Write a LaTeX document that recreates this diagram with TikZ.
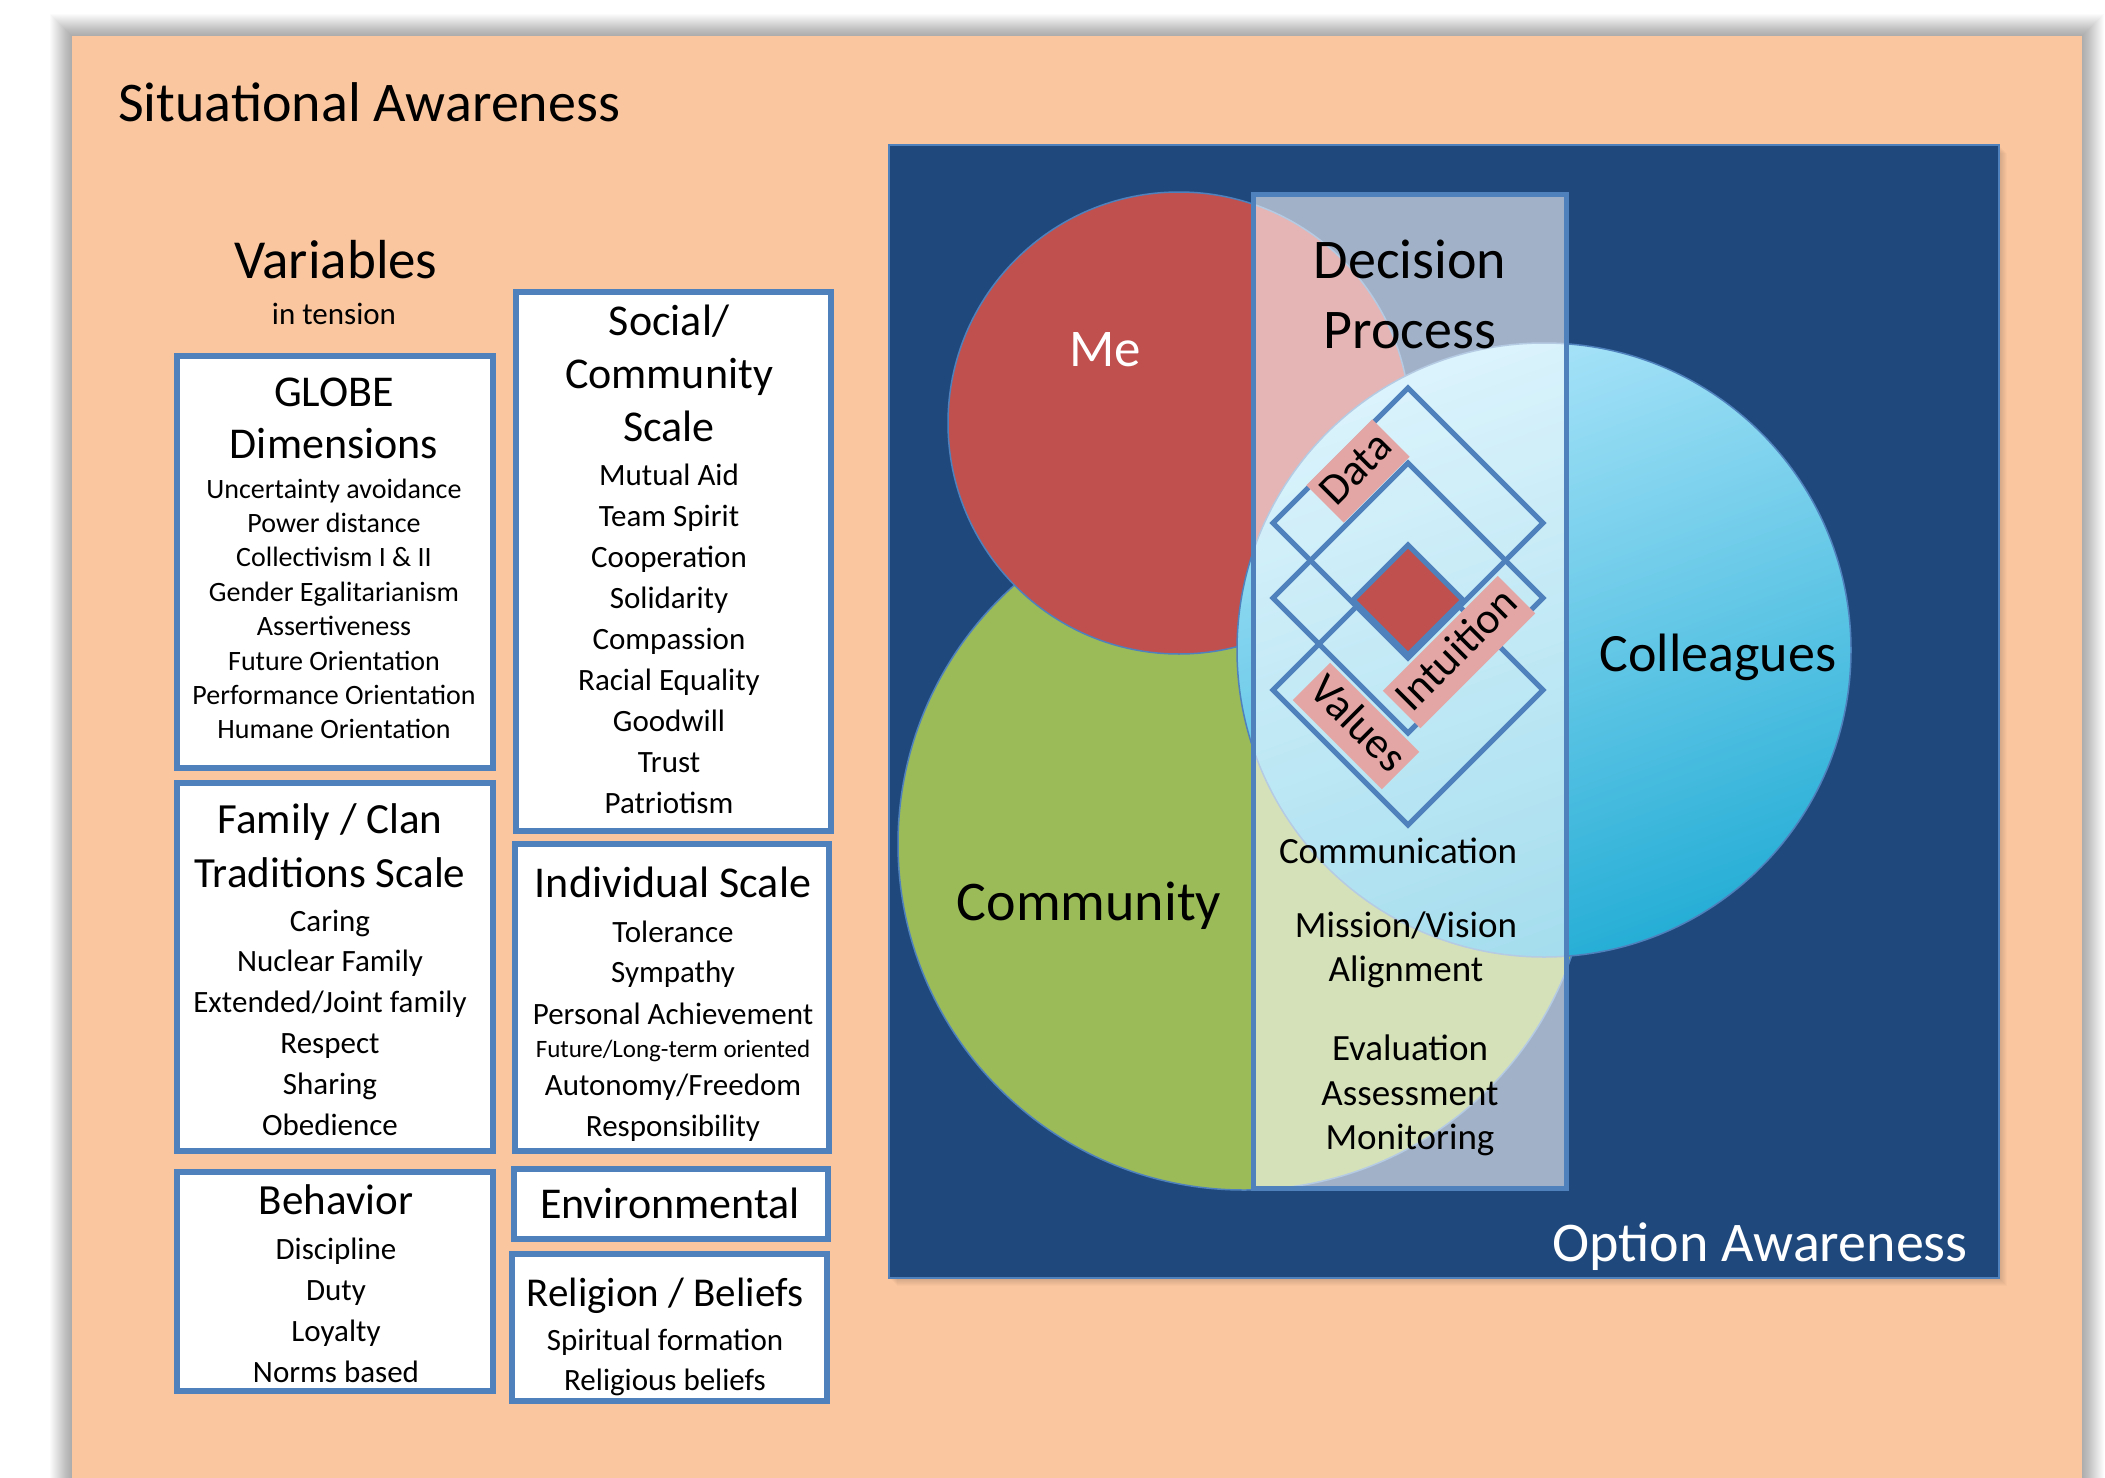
\documentclass[tikz,border=0pt]{standalone}
\usepackage{fontspec}
\setmainfont{Carlito}
\definecolor{peach}{RGB}{250,198,160}
\definecolor{navy}{RGB}{31,73,125}
\definecolor{bblue}{RGB}{79,129,189}
\definecolor{mered}{RGB}{192,80,77}
\definecolor{comgreen}{RGB}{155,187,89}
\definecolor{coltop}{RGB}{170,228,249}
\definecolor{colbot}{RGB}{38,174,214}
\definecolor{pinklab}{RGB}{228,166,165}
\newcommand{\fsz}[1]{\fontsize{#1}{#1}\selectfont}
\begin{document}
\begin{tikzpicture}[x=1pt,y=-1pt,
  txt/.style={anchor=base, inner sep=0pt},
  vbox/.style={draw=bblue, line width=6pt, fill=white},
  dia/.style={draw=bblue, line width=5pt, line join=miter},
  lab/.style={fill=pinklab, font=\fsz{44}, inner xsep=5pt, inner ysep=5pt, text height=32pt, text depth=11pt, anchor=center},
  ttl/.style={txt, font=\fsz{44}},
  itm/.style={txt, font=\fsz{31}}]
\useasboundingbox (0,0) rectangle (2105,1478);
\fill[white] (0,0) rectangle (2105,1478);
% outer panel shadow
\foreach \k in {1,...,22} \fill[black,opacity=0.014] ({72-\k},{36-\k}) rectangle ({2082+\k},1500);
\fill[peach] (72,36) rectangle (2082,1500);

\node[txt, anchor=base west, font=\fsz{56}] (title) at (118,121) {Situational Awareness};
\node[txt, font=\fsz{55}] (vars) at (336,278) {Variables};
\node[txt, font=\fsz{31}] (tension) at (334,324) {in tension};

% boxes
\draw[vbox] (177,356) rectangle (493,768);
\draw[vbox] (177,783) rectangle (493,1151);
\draw[vbox] (177,1172) rectangle (493,1391);
\draw[vbox] (516,292) rectangle (831,831);
\draw[vbox] (515,844) rectangle (829,1151);
\draw[vbox] (514,1169) rectangle (828,1239);
\draw[vbox] (512,1254) rectangle (827,1401);

% GLOBE
\node[ttl] (g0a) at (334,406) {GLOBE};
\node[ttl] (g0b) at (334,458) {Dimensions};
\foreach \t [count=\i] in {Uncertainty avoidance, Power distance, Collectivism I \& II, Gender Egalitarianism, Assertiveness, Future Orientation, Performance Orientation, Humane Orientation}
  \node[txt, font=\fsz{28}] (g\i) at (334,{498+34.4*(\i-1)}) {\t};
% Social
\node[ttl] (s0a) at (669,335) {Social/};
\node[ttl] (s0b) at (669,388) {Community};
\node[ttl] (s0c) at (669,441) {Scale};
\foreach \t [count=\i] in {Mutual Aid, Team Spirit, Cooperation, Solidarity, Compassion, Racial Equality, Goodwill, Trust, Patriotism}
  \node[itm] (s\i) at (669,{485+41*(\i-1)}) {\t};
% Family
\node[txt, font=\fsz{43}] (f0a) at (330,833) {Family / Clan};
\node[txt, font=\fsz{43}] (f0b) at (330,887) {Traditions Scale};
\foreach \t [count=\i] in {Caring, Nuclear Family, Extended/Joint family, Respect, Sharing, Obedience}
  \node[itm] (f\i) at (330,{931+40.8*(\i-1)}) {\t};
% Behavior
\node[txt, font=\fsz{43}] (b0) at (336,1214) {Behavior};
\foreach \t [count=\i] in {Discipline, Duty, Loyalty, Norms based}
  \node[itm] (b\i) at (336,{1259+41*(\i-1)}) {\t};
% Individual
\node[ttl] (i0) at (673,897) {Individual Scale};
\node[itm] (i1) at (673,942) {Tolerance};
\node[itm] (i2) at (673,982) {Sympathy};
\node[itm] (i3) at (673,1024) {Personal Achievement};
\node[txt, font=\fsz{25}] (i4) at (673,1057) {Future/Long-term oriented};
\node[itm] (i5) at (673,1095) {Autonomy/Freedom};
\node[itm] (i6) at (673,1136) {Responsibility};
% Environmental
\node[ttl] (e0) at (670,1218) {Environmental};
% Religion
\node[txt, font=\fsz{41}] (r0) at (665,1306) {Religion / Beliefs};
\node[itm] (r1) at (665,1350) {Spiritual formation};
\node[itm] (r2) at (665,1390) {Religious beliefs};

% option awareness panel
\foreach \k in {1,...,8} \fill[black,opacity=0.02] ({889+\k},{145+\k}) rectangle ({1999+\k},{1278+\k});
\draw[fill=navy, draw=bblue, line width=2pt] (889,145) rectangle (1999,1278);

\path[fill=comgreen, draw=bblue, line width=1.5pt] (1244,844) circle [radius=346];
\path[fill=mered, draw=bblue, line width=1.5pt] (1179,423) circle [radius=231];
\path[draw=bblue, line width=1.5pt, top color=coltop, bottom color=colbot, shading angle=20] (1544,650) circle [radius=307];

% decision rectangle
\path[fill=white, fill opacity=0.58, draw=bblue, line width=5pt] (1253,194) rectangle (1566,1188);

% diamonds
\foreach \cy in {523,598,690}
  \draw[dia] (1408,{\cy-135}) -- (1543,\cy) -- (1408,{\cy+135}) -- (1273,\cy) -- cycle;
\draw[dia, fill=mered] (1408,545) -- (1463,600) -- (1408,655) -- (1353,600) -- cycle;

\node[lab, rotate=45] (data) at (1358,471) {Data};
\node[lab, rotate=45] (intu) at (1459,652) {Intuition};
\node[lab, rotate=-45] (vals) at (1356,726) {Values};

% texts
\node[txt, font=\fsz{53}, text=white] (me) at (1105,366) {Me};
\node[txt, font=\fsz{56}] (dec1) at (1410,278) {Decision};
\node[txt, font=\fsz{56}] (dec2) at (1410,348) {Process};
\node[txt, font=\fsz{54}] (coll) at (1718,671) {Colleagues};
\node[txt, font=\fsz{56}] (comm) at (1089,920) {Community};
\node[txt, font=\fsz{37}] (cmn) at (1398,863) {Communication};
\node[txt, font=\fsz{37}] (mv1) at (1406,937) {Mission/Vision};
\node[txt, font=\fsz{37}] (mv2) at (1406,981) {Alignment};
\node[txt, font=\fsz{37}] (ev1) at (1410,1060) {Evaluation};
\node[txt, font=\fsz{37}] (ev2) at (1410,1105) {Assessment};
\node[txt, font=\fsz{37}] (ev3) at (1410,1149) {Monitoring};
\node[txt, font=\fsz{56}, text=white] (opt) at (1760,1261) {Option Awareness};
\end{tikzpicture}
\end{document}
